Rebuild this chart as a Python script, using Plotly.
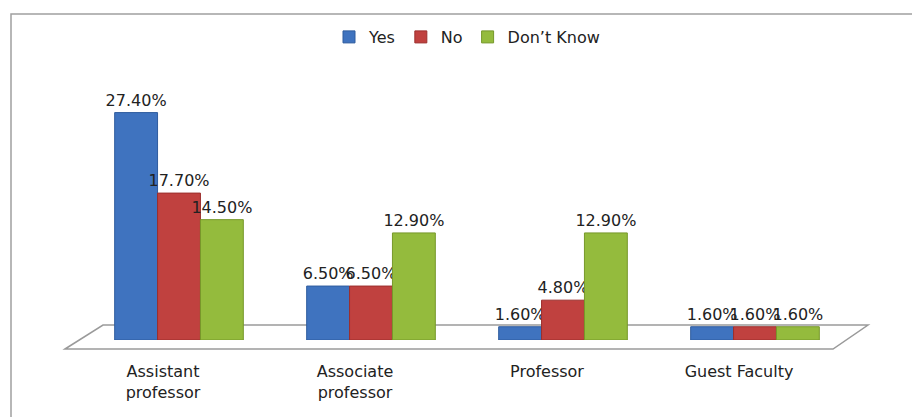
import plotly.graph_objects as go

categories = ["Assistant<br>professor", "Associate<br>professor", "Professor", "Guest Faculty"]
yes_vals = [27.4, 6.5, 1.6, 1.6]
no_vals = [17.7, 6.5, 4.8, 1.6]
dk_vals = [14.5, 12.9, 12.9, 1.6]
series_names = ["Yes", "No", "Don’t Know"]
colors = ["#3f73bf", "#c0413f", "#94bb3d"]
line_colors = ["#2f5c9e", "#9c2f2d", "#76982a"]

W, H = 912, 417
ML, MR, MT, MB = 83, 61, 91, 77
PW, PH = W - ML - MR, H - MT - MB

def px(xp):
    return (xp - ML) / PW

def py(yp):
    return 1 - (yp - MT) / PH

FONT = "DejaVu Sans"

fig = go.Figure()
for name, vals, c, lc in zip(series_names, [yes_vals, no_vals, dk_vals], colors, line_colors):
    fig.add_trace(go.Bar(
        x=categories, y=vals, name=name,
        marker=dict(color=c, line=dict(color=lc, width=1)),
        text=[f"{v:.2f}%" for v in vals],
        textposition="outside", constraintext="none", cliponaxis=False,
        textfont=dict(family=FONT, size=16, color="#222"),
    ))

# 3D-style floor and chart frame (decoration)
fig.add_shape(type="path", xref="paper", yref="paper", layer="below",
              path=f"M {px(65)} {py(349)} L {px(103)} {py(325)} L {px(868)} {py(325)} L {px(833)} {py(349)} Z",
              line=dict(color="#9a9a9a", width=1.5), fillcolor="white")
fig.add_shape(type="rect", xref="paper", yref="paper", layer="below",
              x0=px(11), y0=py(14), x1=px(930), y1=py(430),
              line=dict(color="#a0a0a0", width=1.5), fillcolor="rgba(0,0,0,0)")

fig.update_layout(
    width=W, height=H,
    margin=dict(l=ML, r=MR, t=MT, b=MB),
    paper_bgcolor="white", plot_bgcolor="rgba(0,0,0,0)",
    barmode="group", bargap=0.33, bargroupgap=0,
    font=dict(family=FONT, size=16, color="#222"),
    legend=dict(orientation="h", x=0.5, xanchor="center", y=py(37), yanchor="middle",
                font=dict(family=FONT, size=16, color="#222"),
                itemwidth=30, tracegroupgap=0, bgcolor="rgba(0,0,0,0)"),
    xaxis=dict(showline=False, showgrid=False, zeroline=False, ticks="",
               ticklabelstandoff=20, ticklabelshift=-16,
               tickfont=dict(family=FONT, size=16, color="#222")),
    yaxis=dict(range=[0, 30], visible=False, showgrid=False, zeroline=False),
    showlegend=True,
)

fig.write_html("out.html")
